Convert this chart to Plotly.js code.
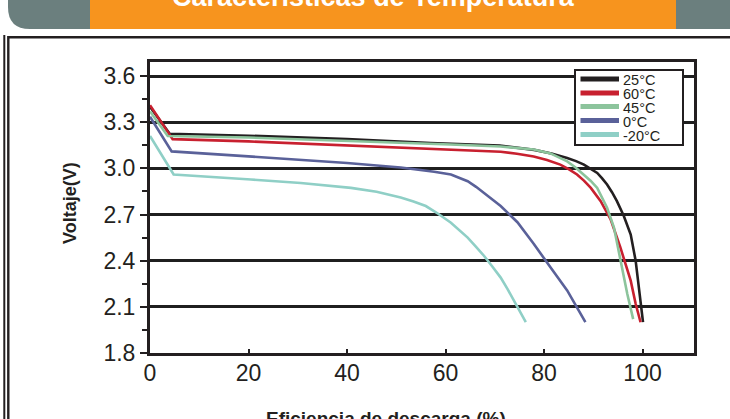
<!DOCTYPE html>
<html>
<head>
<meta charset="utf-8">
<script src="https://cdn.plot.ly/plotly-3.0.1.min.js"></script>
<style>html,body{margin:0;padding:0;background:#fff;}#chart{width:730px;height:419px;}</style>
</head>
<body>
<div id="chart"></div>
<script>
// ---- data ----
const seriesNames = ["25°C", "60°C", "45°C", "0°C", "-20°C"];
const seriesColors = ["#231f20", "#c8202f", "#8cc49c", "#5a6199", "#8fcfc6"];

const x25 = [0, 4, 20, 40, 57, 71, 78, 81.5, 84.7, 86.5, 88.1, 89.5, 90.8, 91.8, 92.8, 93.8, 94.8, 96.2, 97.6, 98.6, 99.2, 99.7, 100.1];
const y25 = [3.40, 3.225, 3.212, 3.19, 3.165, 3.148, 3.12, 3.097, 3.067, 3.047, 3.024, 2.998, 2.97, 2.935, 2.895, 2.845, 2.787, 2.69, 2.57, 2.40, 2.23, 2.10, 2.00];

const x60 = [0, 4.6, 20, 40, 61, 66, 71.2, 74.5, 77.9, 80.6, 83.3, 85, 86.7, 88.1, 89.5, 91.5, 93.5, 95.5, 97.6, 98.6, 99.6];
const y60 = [3.41, 3.19, 3.175, 3.15, 3.125, 3.118, 3.108, 3.095, 3.077, 3.054, 3.024, 2.995, 2.96, 2.92, 2.873, 2.787, 2.67, 2.486, 2.27, 2.12, 2.00];

const x45 = [0, 3.6, 20, 40, 61, 71.2, 77.9, 81.3, 84.7, 86.4, 88.1, 89.5, 90.8, 92.8, 94.2, 95.5, 96.9, 98.1];
const y45 = [3.37, 3.21, 3.20, 3.18, 3.155, 3.142, 3.122, 3.097, 3.045, 3.005, 2.96, 2.918, 2.873, 2.744, 2.615, 2.40, 2.185, 2.02];

const x0 = [0, 4.4, 20, 30.6, 40, 50.9, 54.3, 57.7, 61.1, 62.8, 64.5, 66.2, 67.8, 69.5, 71.2, 74.6, 77.9, 81.3, 84.7, 88.4];
const y0 = [3.335, 3.11, 3.078, 3.056, 3.035, 3.005, 2.992, 2.978, 2.96, 2.94, 2.916, 2.88, 2.84, 2.80, 2.755, 2.65, 2.51, 2.357, 2.207, 2.00];

const xm20 = [0, 4.8, 20.5, 30.6, 40.8, 46, 50.9, 53.5, 56, 58.5, 61.1, 62.8, 64.5, 66.2, 67.8, 69.5, 71.2, 72.6, 73.9, 75.1, 76.3];
const ym20 = [3.21, 2.96, 2.927, 2.905, 2.873, 2.848, 2.81, 2.785, 2.755, 2.705, 2.647, 2.60, 2.55, 2.49, 2.432, 2.362, 2.29, 2.215, 2.142, 2.07, 2.00];

const xTicks = [0, 20, 40, 60, 80, 100];
const yTicks = [1.8, 2.1, 2.4, 2.7, 3.0, 3.3, 3.6];
const yTickLabels = ["1.8", "2.1", "2.4", "2.7", "3.0", "3.3", "3.6"];

const titleText = "Características de Temperatura";
const xTitleText = "Eficiencia de descarga (%)";
const yTitleText = "Voltaje(V)";

// ---- layout helpers (pixel -> paper) ----
const W = 730, H = 419, ML = 150, MR = 36, MT = 62, MB = 66;
const PW = W - ML - MR, PH = H - MT - MB;
const X = px => (px - ML) / PW;
const Y = py => (H - MB - py) / PH;

const FONT = "Liberation Sans, Arial, Helvetica, sans-serif";
const xsAll = [x25, x60, x45, x0, xm20];
const ysAll = [y25, y60, y45, y0, ym20];

const traces = seriesNames.map((n, i) => ({
  type: "scatter", mode: "lines", name: n,
  x: xsAll[i], y: ysAll[i],
  line: {color: seriesColors[i], width: 2.6},
  showlegend: false, hoverinfo: "skip"
}));

const shapes = [];
const annotations = [];

// banner
shapes.push({type: "path", xref: "paper", yref: "paper",
  path: `M ${X(8)},${Y(0)} L ${X(92)},${Y(0)} L ${X(92)},${Y(29)} L ${X(30)},${Y(29)} Q ${X(8)},${Y(29)} ${X(8)},${Y(7)} Z`,
  fillcolor: "#6b7f7e", line: {width: 0}});
shapes.push({type: "rect", xref: "paper", yref: "paper",
  x0: X(675), x1: X(745), y0: Y(0), y1: Y(29), fillcolor: "#6b7f7e", line: {width: 0}});
shapes.push({type: "rect", xref: "paper", yref: "paper",
  x0: X(90), x1: X(676), y0: Y(-5), y1: Y(29), fillcolor: "#f7941e", line: {width: 0}});
annotations.push({xref: "paper", yref: "paper", x: X(373), y: Y(-3), xanchor: "center", yanchor: "middle",
  text: "<b>" + titleText + "</b>", showarrow: false, font: {family: FONT, size: 27, color: "#ffffff"}});

// outer frame
shapes.push({type: "rect", xref: "paper", yref: "paper",
  x0: X(8.3), x1: X(760), y0: Y(37.2), y1: Y(460), line: {color: "#231f20", width: 2.4}, fillcolor: "rgba(0,0,0,0)"});
shapes.push({type: "line", xref: "paper", yref: "paper",
  x0: X(4.3), x1: X(4.3), y0: Y(35), y1: Y(460), line: {color: "#231f20", width: 2}});

// legend box
const LX0 = 575, LX1 = 683, LY0 = 70, LY1 = 145;
shapes.push({type: "rect", xref: "paper", yref: "paper", layer: "above",
  x0: X(LX0), x1: X(LX1), y0: Y(LY0), y1: Y(LY1), fillcolor: "#ffffff", line: {color: "#231f20", width: 2}});
const rowY = [79, 93, 106.5, 120.5, 134.5];
seriesNames.forEach((n, i) => {
  shapes.push({type: "line", xref: "paper", yref: "paper", layer: "above",
    x0: X(580.5), x1: X(619), y0: Y(rowY[i]), y1: Y(rowY[i]), line: {color: seriesColors[i], width: 5}});
  annotations.push({xref: "paper", yref: "paper", x: X(621), y: Y(rowY[i] + 1), xanchor: "left", yanchor: "middle",
    text: n, showarrow: false, font: {family: FONT, size: 14.5, color: "#231f20"}});
});

// axis titles
annotations.push({xref: "paper", yref: "paper", x: X(386), y: Y(406), xanchor: "center", yanchor: "top",
  text: "<b>" + xTitleText + "</b>", showarrow: false, font: {family: FONT, size: 19, color: "#231f20"}});
annotations.push({xref: "paper", yref: "paper", x: X(70), y: Y(203), xanchor: "center", yanchor: "middle",
  textangle: -90, text: "<b>" + yTitleText + "</b>", showarrow: false, font: {family: FONT, size: 18, color: "#231f20"}});

const layout = {
  width: W, height: H,
  margin: {l: ML, r: MR, t: MT, b: MB, pad: 0},
  paper_bgcolor: "#ffffff", plot_bgcolor: "#ffffff",
  font: {family: FONT, color: "#231f20"},
  showlegend: false,
  xaxis: {
    range: [0, 110.45], tickvals: xTicks, ticktext: xTicks.map(String),
    ticks: "inside", ticklen: 4, tickwidth: 2, tickcolor: "#231f20",
    ticklabelstandoff: -3,
    showline: true, linewidth: 3, linecolor: "#231f20", mirror: true,
    showgrid: false, zeroline: false,
    tickfont: {family: FONT, size: 23, color: "#231f20"}
  },
  yaxis: {
    range: [1.8, 3.691], tickvals: yTicks, ticktext: yTickLabels,
    ticks: "outside", ticklen: 7, tickwidth: 2, tickcolor: "#231f20",
    showline: true, linewidth: 3, linecolor: "#231f20", mirror: true,
    showgrid: true, gridcolor: "#1f1f1f", gridwidth: 3, zeroline: false,
    minor: {tickvals: [1.95, 2.25, 2.55, 2.85, 3.15, 3.45], ticks: "outside", ticklen: 5, tickwidth: 2, tickcolor: "#231f20", showgrid: false},
    tickfont: {family: FONT, size: 23, color: "#231f20"}
  },
  shapes: shapes,
  annotations: annotations
};

Plotly.newPlot("chart", traces, layout, {staticPlot: true, displayModeBar: false});
</script>
</body>
</html>
